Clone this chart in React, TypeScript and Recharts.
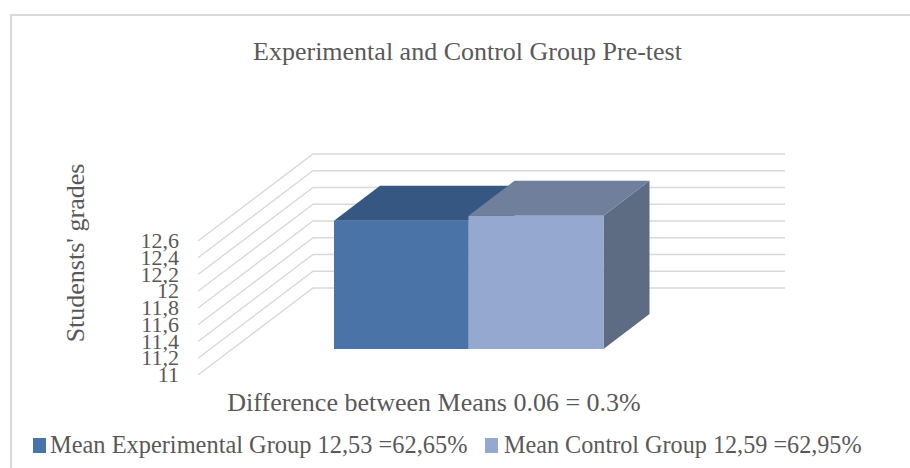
import React from 'react';
import { BarChart, Bar, XAxis, YAxis, CartesianGrid } from 'recharts';

const categories = ['Pre-test'];
const experimentalValues = [12.53];
const controlValues = [12.59];
const tickValues = [11, 11.2, 11.4, 11.6, 11.8, 12, 12.2, 12.4, 12.6];
const seriesNames = ['Mean Experimental Group 12,53 =62,65%', 'Mean Control Group 12,59 =62,95%'];

const data = categories.map((name, i) => ({
  name,
  experimental: experimentalValues[i],
  control: controlValues[i],
}));

const serif = '"Liberation Serif", serif';
const textColor = '#595959';

// depth of the fake 3D box, in pixels
const BAR_DX = 46;
const BAR_DY = 35;

const Box3D = ({ x, y, width, height, front, top, side }: any) => {
  const r = x + width;
  const b = y + height;
  return (
    <g>
      <polygon points={`${r},${y} ${r + BAR_DX},${y - BAR_DY} ${r + BAR_DX},${b - BAR_DY} ${r},${b}`} fill={side} />
      <polygon points={`${x},${y} ${x + BAR_DX},${y - BAR_DY} ${r + BAR_DX},${y - BAR_DY} ${r},${y}`} fill={top} />
      <rect x={x} y={y} width={width} height={height} fill={front} />
    </g>
  );
};

// each grid line: slanted floor part, then the back wall part
const GridLine = ({ y1, key }: any) => (
  <polyline
    key={key}
    points={`198,${y1 + 26} 313,${y1 - 61} 785,${y1 - 61}`}
    fill="none"
    stroke="#d9d9d9"
    strokeWidth={1.4}
  />
);

const YTick = ({ y, payload }: any) => (
  <text
    x={179}
    y={y + 33}
    textAnchor="end"
    fontFamily={serif}
    fontSize={22}
    fill={textColor}
  >
    {String(payload.value).replace('.', ',')}
  </text>
);

const App: React.FC = () => {
  return (
    <div style={{ position: 'absolute', left: 0, top: 0, width: 910, height: 468, background: '#fff' }}>
      <div
        style={{
          position: 'absolute',
          left: 10,
          top: 14,
          right: 0,
          bottom: 0,
          borderTop: '2px solid #d9d9d9',
          borderLeft: '2px solid #d9d9d9',
        }}
      />
      <div style={{ position: 'absolute', left: 0, top: 0 }}>
        <BarChart
          width={910}
          height={468}
          data={data}
          margin={{ top: 215, right: 307, bottom: 119, left: 0 }}
          barCategoryGap={0}
          barGap={0}
        >
          <CartesianGrid vertical={false} horizontal={GridLine as any} />
          <XAxis dataKey="name" hide />
          <YAxis
            width={334}
            domain={[11, 12.6]}
            ticks={tickValues}
            interval={0}
            axisLine={false}
            tickLine={false}
            tick={YTick as any}
          />
          <Bar
            dataKey="experimental"
            isAnimationActive={false}
            shape={(p: any) => <Box3D {...p} width={p.width - 0.5} front="#4a73a8" top="#355782" side="#2f4d74" />}
          />
          <Bar
            dataKey="control"
            isAnimationActive={false}
            shape={(p: any) => <Box3D {...p} x={p.x - 0.5} front="#95a9d0" top="#6f7f9c" side="#5d6b83" />}
          />
          <text x={467.5} y={60} textAnchor="middle" fontFamily={serif} fontSize={26} fill={textColor}>
            Experimental and Control Group Pre-test
          </text>
          <text
            x={0}
            y={0}
            transform="translate(84 253) rotate(-90)"
            textAnchor="middle"
            fontFamily={serif}
            fontSize={26}
            fill={textColor}
          >
            Studensts' grades
          </text>
          <text x={434} y={411} textAnchor="middle" fontFamily={serif} fontSize={26} fill={textColor}>
            Difference between Means 0.06 = 0.3%
          </text>
          <rect x={33} y={438} width={13} height={15} fill="#4a73a8" />
          <text x={50} y={453} fontFamily={serif} fontSize={24.4} fill={textColor}>
            {seriesNames[0]}
          </text>
          <rect x={485} y={438} width={13} height={15} fill="#95a9d0" />
          <text x={504} y={453} fontFamily={serif} fontSize={24.2} fill={textColor}>
            {seriesNames[1]}
          </text>
        </BarChart>
      </div>
    </div>
  );
};

export default App;
